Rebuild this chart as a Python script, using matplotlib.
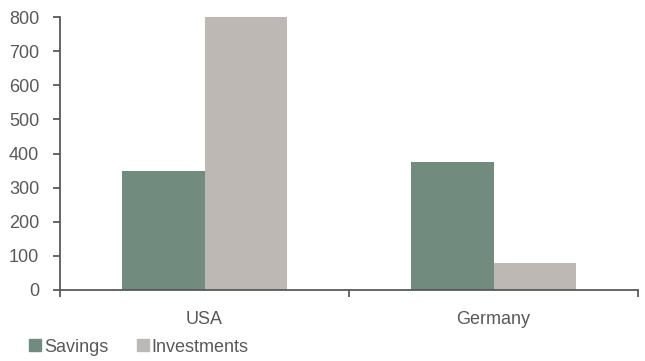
import numpy as np
import matplotlib
matplotlib.use("Agg")
import matplotlib.pyplot as plt
from matplotlib.patches import Patch

countries = ["USA", "Germany"]
savings = [350, 375]
investments = [800, 78]

c_sav = "#718b7f"
c_inv = "#bdb8b4"
c_axis = "#595959"

plt.rcParams['font.family'] = ['Liberation Sans', 'DejaVu Sans']

fig = plt.figure(figsize=(6.45, 3.61), dpi=100)
ax = fig.add_axes([60/645, 71/361, 578/645, 273/361])

x = np.arange(len(countries))
w = 0.287
ax.bar(x - w/2, savings, w, color=c_sav, label="Savings")
ax.bar(x + w/2, investments, w, color=c_inv, label="Investments")

ax.set_xlim(-0.5, 1.5)
ax.set_ylim(0, 800)
ax.set_yticks(range(0, 801, 100))
ax.set_xticks(x)
ax.set_xticklabels(countries)
ax.set_xticks([-0.5, 0.5, 1.5], minor=True)
ax.tick_params(axis='x', which='major', length=0, pad=15, labelsize=13, labelcolor=c_axis)
ax.tick_params(axis='x', which='minor', length=5, width=1.3, color=c_axis)
ax.tick_params(axis='y', length=5, width=1.3, color=c_axis, labelsize=13, labelcolor=c_axis, pad=10)

for s in ["top", "right"]:
    ax.spines[s].set_visible(False)
for s in ["left", "bottom"]:
    ax.spines[s].set_color(c_axis)
    ax.spines[s].set_linewidth(1.3)

handles = [Patch(color=c_sav), Patch(color=c_inv)]
fig.legend(handles, ["Savings", "Investments"], loc="lower left",
           bbox_to_anchor=(24/645, 0), ncol=2, frameon=False,
           borderpad=0.1, borderaxespad=0.2,
           handlelength=0.65, handleheight=0.65, handletextpad=0.15,
           columnspacing=1.6, fontsize=13, labelcolor=c_axis)

fig.savefig("out.png", dpi=100)
